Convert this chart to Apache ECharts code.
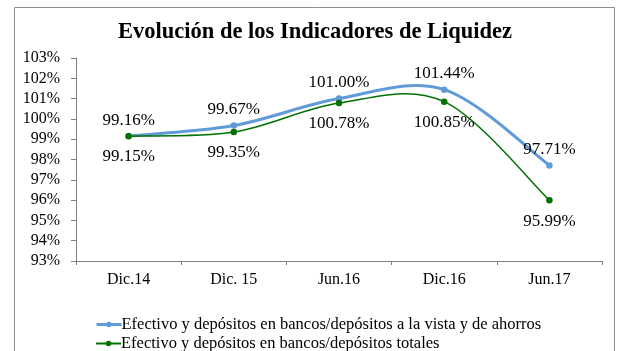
<!DOCTYPE html>
<html>
<head>
<meta charset="utf-8">
<script src="https://cdn.jsdelivr.net/npm/echarts@6/dist/echarts.min.js"></script>
<style>
  html, body { margin: 0; padding: 0; background: #fff; }
  #chart { width: 617px; height: 351px; }
</style>
</head>
<body>
<div id="chart"></div>
<script>
// Periods on the horizontal axis
const categories = ['Dic.14', 'Dic. 15', 'Jun.16', 'Dic.16', 'Jun.17'];
// Liquidity ratios, in percent
const vistaAhorros = [99.16, 99.67, 101.00, 101.44, 97.71];
const totales = [99.15, 99.35, 100.78, 100.85, 95.99];
const seriesNames = [
  'Efectivo y depósitos en bancos/depósitos a la vista y de ahorros',
  'Efectivo y depósitos en bancos/depósitos totales'
];
const titleText = 'Evolución de los Indicadores de Liquidez';

const FONT = '"Liberation Serif", "Times New Roman", serif';
const BLUE = '#5f9bd8';
const GREEN = '#007000';
const pct = p => p.value.toFixed(2) + '%';

// Smoothed curve: one cubic Bezier per segment, Catmull-Rom style tangents
// (neighbour difference / 6), with the end points repeated at the ends.
function smoothCurve(values, color, width) {
  return {
    type: 'custom',
    silent: true,
    z: 2,
    data: values.map((v, i) => [i, v]),
    renderItem: function (params, api) {
      const i = params.dataIndex;
      if (i >= values.length - 1) return null;
      const clampIdx = k => Math.max(0, Math.min(values.length - 1, k));
      const pt = k => api.coord([clampIdx(k), values[clampIdx(k)]]);
      const p0 = pt(i - 1), p1 = pt(i), p2 = pt(i + 1), p3 = pt(i + 2);
      return {
        type: 'bezierCurve',
        shape: {
          x1: p1[0], y1: p1[1],
          x2: p2[0], y2: p2[1],
          cpx1: p1[0] + (p2[0] - p0[0]) / 6, cpy1: p1[1] + (p2[1] - p0[1]) / 6,
          cpx2: p2[0] - (p3[0] - p1[0]) / 6, cpy2: p2[1] - (p3[1] - p1[1]) / 6
        },
        style: { stroke: color, lineWidth: width, fill: null, lineCap: 'round' }
      };
    }
  };
}

const legendBase = {
  orient: 'horizontal',
  left: 90,
  itemWidth: 25,
  itemHeight: 7,
  itemGap: 0,
  textStyle: { fontFamily: FONT, fontSize: 16.5, color: '#000', padding: [0, 0, 0, -5] }
};

const chart = echarts.init(document.getElementById('chart'));
chart.setOption({
  animation: false,
  backgroundColor: '#fff',
  textStyle: { fontFamily: FONT, color: '#000' },
  title: {
    text: titleText,
    left: 113,
    top: 16,
    textStyle: { fontFamily: FONT, fontSize: 22.5, fontWeight: 'bold', color: '#000' }
  },
  graphic: [{
    type: 'rect',
    left: 12, top: 5,
    shape: { width: 600, height: 380 },
    style: { fill: 'none', stroke: '#8c8c8c', lineWidth: 1 },
    silent: true
  }],
  legend: [
    Object.assign({}, legendBase, {
      top: 311,
      data: [{ name: seriesNames[0], lineStyle: { opacity: 1, width: 3, color: BLUE } }]
    }),
    Object.assign({}, legendBase, {
      top: 330,
      data: [{ name: seriesNames[1], lineStyle: { opacity: 1, width: 2, color: GREEN } }]
    })
  ],
  grid: { left: 76, right: 15, top: 58, bottom: 90, containLabel: false },
  xAxis: {
    type: 'category',
    data: categories,
    boundaryGap: true,
    axisLine: { lineStyle: { color: '#7f7f7f', width: 1 } },
    axisTick: { show: true, length: 4, inside: false, lineStyle: { color: '#7f7f7f' } },
    axisLabel: { fontFamily: FONT, fontSize: 16, color: '#000', margin: 11 }
  },
  yAxis: {
    type: 'value',
    min: 93, max: 103, interval: 1,
    axisLine: { show: true, lineStyle: { color: '#7f7f7f', width: 1 } },
    axisTick: { show: true, length: 5, lineStyle: { color: '#7f7f7f' } },
    splitLine: { show: false },
    axisLabel: { fontFamily: FONT, fontSize: 16, color: '#000', margin: 16, formatter: '{value}%' }
  },
  series: [
    smoothCurve(vistaAhorros, BLUE, 3),
    smoothCurve(totales, GREEN, 1.5),
    {
      name: seriesNames[0],
      type: 'line',
      data: vistaAhorros,
      symbol: 'circle',
      symbolSize: 6.5,
      itemStyle: { color: BLUE },
      lineStyle: { color: BLUE, width: 3, opacity: 0 },
      label: {
        show: true, position: 'top', distance: 4,
        fontFamily: FONT, fontSize: 17, color: '#000', formatter: pct
      },
      z: 3
    },
    {
      name: seriesNames[1],
      type: 'line',
      data: totales,
      symbol: 'circle',
      symbolSize: 6.5,
      itemStyle: { color: GREEN },
      lineStyle: { color: GREEN, width: 1.5, opacity: 0 },
      label: {
        show: true, position: 'bottom', distance: 9,
        fontFamily: FONT, fontSize: 17, color: '#000', formatter: pct
      },
      z: 4
    }
  ]
});
</script>
</body>
</html>
